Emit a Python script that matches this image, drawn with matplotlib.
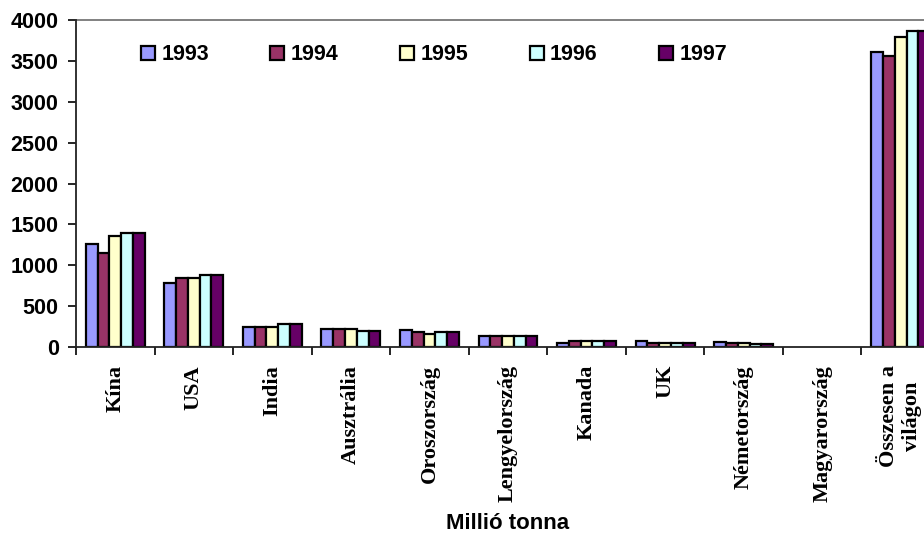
import numpy as np
import matplotlib
matplotlib.use('agg')
import matplotlib.pyplot as plt

# coal output per country, million tonnes
countries = ['Kína', 'USA', 'India', 'Ausztrália', 'Oroszország',
             'Lengyelország', 'Kanada', 'UK', 'Németország',
             'Magyarország', 'Összesen a\nvilágon']
years = ['1993', '1994', '1995', '1996', '1997']

v1993 = [1260, 780, 250, 215, 205, 130, 55, 70, 60, 0, 3610]
v1994 = [1150, 850, 250, 215, 185, 135, 70, 50, 55, 0, 3560]
v1995 = [1360, 850, 250, 215, 160, 135, 72, 50, 55, 0, 3790]
v1996 = [1390, 875, 285, 200, 185, 137, 72, 48, 40, 0, 3860]
v1997 = [1390, 875, 285, 200, 185, 137, 72, 48, 40, 0, 3860]

colors = ['#9999FF', '#993366', '#FFFFCC', '#CCFFFF', '#660066']

fig = plt.figure(figsize=(9.24, 5.35), dpi=100)
ax = fig.add_axes([76 / 924, 188 / 535, 864 / 924, 327 / 535])

x = np.arange(len(countries))
w = 0.15
series = [v1993, v1994, v1995, v1996, v1997]
for i, (vals, c, yr) in enumerate(zip(series, colors, years)):
    # no outline for empty bars
    lw = [1.6 if v > 0 else 0 for v in vals]
    ax.bar(x + (i - 2) * w, vals, width=w, color=c, edgecolor='black',
           linewidth=lw, label=yr, zorder=2)

ax.set_xlim(-0.5, len(countries) - 0.5)
ax.set_ylim(0, 4000)
ax.set_yticks(range(0, 4001, 500))
ax.tick_params(axis='y', length=5.5, width=1.2, pad=7, labelsize=15.5)
for lab in ax.get_yticklabels():
    lab.set_fontfamily('Liberation Sans')
    lab.set_fontweight('bold')

# category labels centred, boundary ticks between groups
ax.set_xticks(x)
ax.set_xticklabels(countries, rotation=90, va='top', ha='center',
                   family='Liberation Serif', fontweight='bold', fontsize=16,
                   multialignment='center')
ax.tick_params(axis='x', length=0, pad=13)
ax.set_xticks(np.arange(-0.5, len(countries), 1), minor=True)
ax.tick_params(axis='x', which='minor', length=6, width=1.2, direction='out')

for s in ['left', 'bottom']:
    ax.spines[s].set_color('#222222')
    ax.spines[s].set_linewidth(1.3)
    ax.spines[s].set_zorder(3)
ax.spines['top'].set_color('#777777')
ax.spines['top'].set_linewidth(1.3)
ax.spines['right'].set_visible(False)

ax.set_xlabel('Millió tonna', family='Liberation Sans', fontweight='bold',
              fontsize=16, labelpad=8)

leg = ax.legend(ncol=5, loc='center left',
                bbox_to_anchor=(141 / 924, 1 - 55 / 535),
                bbox_transform=fig.transFigure, frameon=False,
                borderpad=0, borderaxespad=0, handlelength=0.65,
                handleheight=0.65, handletextpad=0.3, columnspacing=2.85,
                prop={'family': 'Liberation Sans', 'weight': 'bold',
                      'size': 15.5})

fig.savefig('out.png', dpi=100)
